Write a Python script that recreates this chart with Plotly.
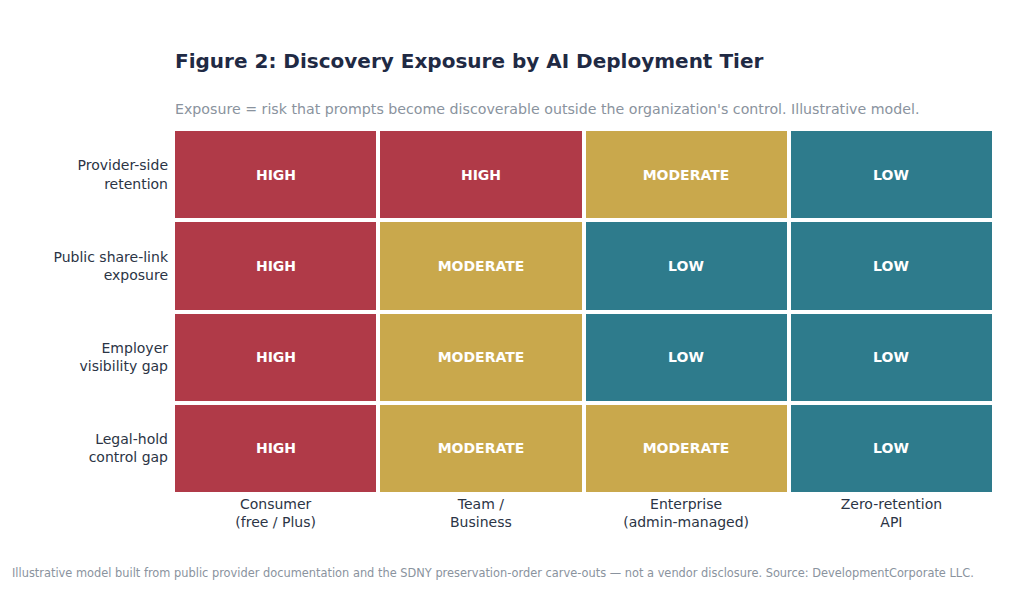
import plotly.graph_objects as go

tiers = ["Consumer<br>(free / Plus)", "Team /<br>Business", "Enterprise<br>(admin-managed)", "Zero-retention<br>API"]
factors = ["Provider-side<br>retention", "Public share-link<br>exposure", "Employer<br>visibility gap", "Legal-hold<br>control gap"]

# exposure levels per factor (rows) across tiers (columns)
levels = [
    ["HIGH", "HIGH", "MODERATE", "LOW"],
    ["HIGH", "MODERATE", "LOW", "LOW"],
    ["HIGH", "MODERATE", "LOW", "LOW"],
    ["HIGH", "MODERATE", "MODERATE", "LOW"],
]
level_score = {"LOW": 0, "MODERATE": 1, "HIGH": 2}

z = [[level_score[v] for v in row] for row in levels]

colorscale = [
    [0.0, "#2e7b8c"], [0.333, "#2e7b8c"],
    [0.333, "#c9a84c"], [0.666, "#c9a84c"],
    [0.666, "#b03a48"], [1.0, "#b03a48"],
]

fig = go.Figure(
    go.Heatmap(
        z=z,
        x=tiers,
        y=factors,
        text=levels,
        texttemplate="<b>%{text}</b>",
        textfont=dict(family="DejaVu Sans", size=14, color="white"),
        colorscale=colorscale,
        zmin=0,
        zmax=2,
        showscale=False,
        xgap=4,
        ygap=4,
        hoverinfo="skip",
    )
)

# page body adds ~8px, margins are set with that in mind
plot_h = 594 - 121 - 108
plot_w = 1024 - 165 - 38

fig.update_layout(
    width=1024,
    height=594,
    paper_bgcolor="white",
    plot_bgcolor="white",
    margin=dict(l=165, r=38, t=121, b=108),
    font=dict(family="DejaVu Sans", color="#2b3445"),
    title=dict(
        text="<b>Figure 2: Discovery Exposure by AI Deployment Tier</b>",
        x=167 / 1024,
        xanchor="left",
        y=1 - 53 / 594,
        yanchor="middle",
        font=dict(size=20, color="#1f2a44"),
    ),
    annotations=[
        dict(
            text="Exposure = risk that prompts become discoverable outside the organization's control. Illustrative model.",
            xref="paper", yref="paper",
            x=0, y=1 + 20 / plot_h,
            xanchor="left", yanchor="middle",
            showarrow=False,
            font=dict(size=14.2, color="#8a939e"),
        ),
        dict(
            text="Illustrative model built from public provider documentation and the SDNY preservation-order carve-outs — not a vendor disclosure. Source: DevelopmentCorporate LLC.",
            xref="paper", yref="paper",
            x=-163 / plot_w, y=-(573 - 494) / plot_h,
            xanchor="left", yanchor="middle",
            showarrow=False,
            font=dict(size=11.4, color="#8a939e"),
        ),
    ],
)
fig.update_xaxes(side="bottom", showgrid=False, zeroline=False, tickfont=dict(size=14, color="#2b3445"), ticks="")
fig.update_yaxes(autorange="reversed", showgrid=False, zeroline=False, tickfont=dict(size=14, color="#2b3445"), ticks="", ticklabelstandoff=4)

fig.write_html("out.html")
